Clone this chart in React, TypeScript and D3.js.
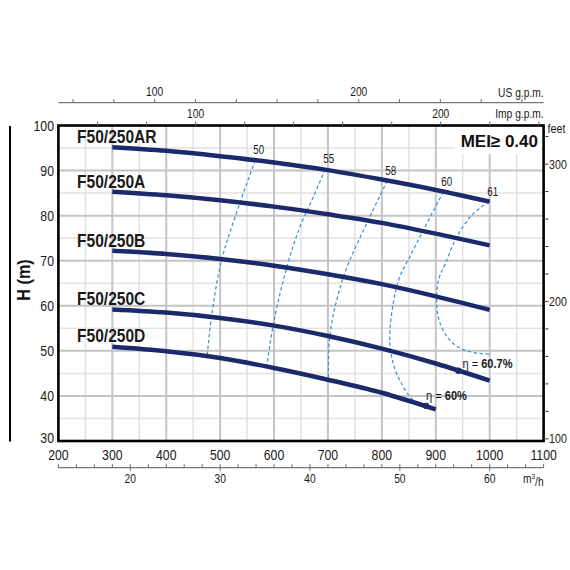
import React from 'react';
import * as d3 from 'd3';

// flow in l/min, head in m
const flow = [300, 400, 500, 600, 700, 800, 900, 1000];
const headAR = [95.2, 94.4, 93.2, 91.8, 90.1, 88.0, 85.7, 83.1];
const headA = [85.3, 84.5, 83.4, 82.0, 80.3, 78.4, 76.0, 73.4];
const headB = [72.2, 71.5, 70.4, 68.9, 67.0, 64.8, 62.1, 59.1];
const headC = [59.2, 58.5, 57.3, 55.6, 53.3, 50.5, 47.2, 43.4];
const headD = [50.9, 49.9, 48.4, 46.2, 43.6, 40.7, 37.0];
const models = ['F50/250AR', 'F50/250A', 'F50/250B', 'F50/250C', 'F50/250D'];

// iso-efficiency lines
const effLevels = ['50', '55', '58', '60', '61'];
const eff50Q = [565, 528, 502, 484, 476];
const eff50H = [92.3, 79.8, 69.8, 57.6, 48.9];
const eff55Q = [695, 673, 648, 624, 599, 587];
const eff55H = [90.3, 84.2, 77.5, 68.7, 56.1, 46.9];
const eff58Q = [810, 772, 729, 704, 701];
const eff58H = [87.7, 78.3, 66.5, 53.9, 43.5];
const eff60Q = [914, 877, 852, 831, 815, 818, 833, 858, 880];
const eff60H = [85.3, 76.8, 70.9, 65.7, 54.6, 48.7, 43.5, 39.1, 37.8];
const eff61Q = [999, 970, 939, 918, 905, 902, 908, 923, 945, 976, 1003];
const eff61H = [83.1, 80.5, 75.3, 69.4, 65.7, 59.8, 56.1, 52.8, 50.6, 49.5, 49.3];

// best efficiency points
const bepLabels = ['60.7%', '60%'];
const bepQ = [942, 882];
const bepH = [45.6, 37.8];

const xTicks = [200, 300, 400, 500, 600, 700, 800, 900, 1000, 1100];
const yTicks = [30, 40, 50, 60, 70, 80, 90, 100];
const usTickLabels = [100, 200];
const impTickLabels = [100, 200];
const m3hTickLabels = [20, 30, 40, 50, 60];
const feetTickLabels = [100, 200, 300];

const SANS = "'Liberation Sans', Arial, sans-serif";
const NAVY = '#1c2a6c';
const DASH = '#3b8fd8';
const SQUEEZE = 0.82;

// condensed text: Liberation Sans squeezed horizontally
function NText(props: {
  x: number;
  y: number;
  size: number;
  anchor?: string;
  bold?: boolean;
  children?: React.ReactNode;
}) {
  return (
    <text
      transform={`translate(${props.x},${props.y}) scale(${SQUEEZE},1)`}
      textAnchor={props.anchor || 'start'}
      dy="0.35em"
      fontFamily={SANS}
      fontWeight={props.bold ? 'bold' : 'normal'}
      fontSize={props.size}
      fill="#1a1a1a"
    >
      {props.children}
    </text>
  );
}

export default function App() {
  const x = d3.scaleLinear().domain([200, 1100]).range([58.4, 543.6]);
  const y = d3.scaleLinear().domain([30, 100]).range([441, 125.5]);

  const fromUS = (g: number) => x(g * 3.78541);
  const fromImp = (g: number) => x(g * 4.54609);
  const fromM3h = (m: number) => x((m * 1000) / 60);
  const fromFeet = (f: number) => y(f * 0.3048);

  const heads = [headAR, headA, headB, headC, headD];
  const labelMid = [136.5, 181.5, 240, 298.5, 335];
  const effQ = [eff50Q, eff55Q, eff58Q, eff60Q, eff61Q];
  const effH = [eff50H, eff55H, eff58H, eff60H, eff61H];

  const line = d3
    .line<[number, number]>()
    .x((d) => x(d[0]))
    .y((d) => y(d[1]))
    .curve(d3.curveCatmullRom.alpha(0.5));

  const [x0, x1] = x.range();
  const [yb, yt] = y.range();

  const minorX = d3.range(250, 1100, 50).filter((v) => v % 100 !== 0);
  const majorX = d3.range(300, 1100, 100);
  const minorY = d3.range(35, 100, 5).filter((v) => v % 10 !== 0);
  const majorY = d3.range(40, 100, 10);

  const usTicks = d3.range(60, 300, 20).filter((g) => fromUS(g) <= x1);
  const impTicks = d3.range(60, 260, 20).filter((g) => fromImp(g) <= x1);
  const m3hTicks = d3.range(12, 67, 2);
  const feetTicks = d3.range(100, 340, 20);

  const usY = 102.7;
  const m3hY = 467.7;

  return (
    <svg
      width={570}
      height={570}
      style={{ position: 'absolute', left: 0, top: 0, background: '#fff' }}
    >
      {/* grid */}
      {minorX.map((v) => (
        <line key={'mx' + v} x1={x(v)} x2={x(v)} y1={yt} y2={yb} stroke="#e2e2e2" strokeWidth={1.5} />
      ))}
      {minorY.map((v) => (
        <line key={'my' + v} x1={x0} x2={x1} y1={y(v)} y2={y(v)} stroke="#e2e2e2" strokeWidth={1.5} />
      ))}
      {majorX.map((v) => (
        <line key={'Mx' + v} x1={x(v)} x2={x(v)} y1={yt} y2={yb} stroke="#c4c4c4" strokeWidth={2} />
      ))}
      {majorY.map((v) => (
        <line key={'My' + v} x1={x0} x2={x1} y1={y(v)} y2={y(v)} stroke="#c4c4c4" strokeWidth={2} />
      ))}

      {/* MEI box */}
      <rect x={455} y={127} width={87} height={27} fill="#fff" />
      <text x={538} y={147} textAnchor="end" fontFamily={SANS} fontWeight="bold" fontSize={17} fill="#111">
        MEI≥ 0.40
      </text>

      {/* efficiency lines */}
      {effLevels.map((lv, i) => {
        const pts = effQ[i].map((q, j) => [q, effH[i][j]] as [number, number]);
        return (
          <g key={'eff' + lv}>
            <path d={line(pts) || ''} fill="none" stroke={DASH} strokeWidth={1.2} strokeDasharray="3.5,2.5" />
            <NText x={x(pts[0][0]) + 3.5} y={y(pts[0][1]) - 10} size={12} anchor="middle">
              {lv}
            </NText>
          </g>
        );
      })}

      {/* head curves */}
      {heads.map((h, i) => {
        const pts = h.map((v, j) => [flow[j], v] as [number, number]);
        return <path key={'h' + i} d={line(pts) || ''} fill="none" stroke={NAVY} strokeWidth={4.5} />;
      })}
      {models.map((m, i) => (
        <NText key={m} x={77} y={labelMid[i]} size={19} bold>
          {m}
        </NText>
      ))}

      {/* best efficiency points */}
      {bepLabels.map((lb, i) => (
        <g key={lb}>
          <circle cx={x(bepQ[i])} cy={y(bepH[i])} r={3.2} fill={NAVY} />
          <NText
            x={x(bepQ[i]) + (i === 0 ? 4 : 0)}
            y={y(bepH[i]) - (i === 0 ? 7.5 : 10.5)}
            size={13.5}
          >
            η = <tspan fontWeight="bold">{lb}</tspan>
          </NText>
        </g>
      ))}

      {/* frame */}
      <rect x={x0} y={yt} width={x1 - x0} height={yb - yt} fill="none" stroke="#000" strokeWidth={2.6} />

      {/* left axis */}
      {yTicks.map((v) => (
        <NText key={'yl' + v} x={54} y={v === 30 ? y(v) - 3 : y(v)} size={15} anchor="end">
          {v}
        </NText>
      ))}
      <line x1={10} x2={10} y1={126} y2={441.5} stroke="#000" strokeWidth={2} />
      <text
        transform="translate(30,280) rotate(-90) scale(0.9,1)"
        textAnchor="middle"
        fontFamily={SANS}
        fontWeight="bold"
        fontSize={18}
        fill="#111"
      >
        H (m)
      </text>

      {/* bottom axis l/min */}
      {xTicks.map((v) => (
        <NText key={'xl' + v} x={x(v)} y={454.5} size={15} anchor="middle">
          {v}
        </NText>
      ))}

      {/* m3/h axis */}
      <line x1={x0} x2={x1} y1={m3hY} y2={m3hY} stroke="#777" strokeWidth={1.3} />
      {m3hTicks.map((m) => (
        <line
          key={'mt' + m}
          x1={fromM3h(m)}
          x2={fromM3h(m)}
          y1={m3hY - 3.5}
          y2={m % 10 === 0 ? m3hY + 3 : m3hY}
          stroke="#666"
          strokeWidth={1}
        />
      ))}
      {m3hTickLabels.map((m) => (
        <NText key={'ml' + m} x={fromM3h(m)} y={479} size={12.5} anchor="middle">
          {m}
        </NText>
      ))}
      <NText x={x1} y={479} size={12.5} anchor="end">
        m<tspan fontSize={8} dy="-0.5em">3</tspan>
        <tspan dy="0.5em">/h</tspan>
      </NText>

      {/* US g.p.m. axis */}
      <line x1={x0} x2={x1} y1={usY} y2={usY} stroke="#777" strokeWidth={1.3} />
      {usTicks.map((g) => (
        <line key={'ut' + g} x1={fromUS(g)} x2={fromUS(g)} y1={usY - 3.5} y2={usY} stroke="#666" strokeWidth={1} />
      ))}
      {usTickLabels.map((g) => (
        <NText key={'ul' + g} x={fromUS(g)} y={91.7} size={12.5} anchor="middle">
          {g}
        </NText>
      ))}
      <NText x={x1} y={92.5} size={12.5} anchor="end">
        US g.p.m.
      </NText>

      {/* Imp g.p.m. axis on frame top */}
      {impTicks.map((g) => (
        <line key={'it' + g} x1={fromImp(g)} x2={fromImp(g)} y1={yt - 4} y2={yt} stroke="#666" strokeWidth={1} />
      ))}
      {impTickLabels.map((g) => (
        <NText key={'il' + g} x={fromImp(g)} y={113.3} size={12.5} anchor="middle">
          {g}
        </NText>
      ))}
      <NText x={x1} y={113.8} size={12.5} anchor="end">
        Imp g.p.m.
      </NText>

      {/* feet axis */}
      {feetTicks.map((f) => (
        <line key={'ft' + f} x1={x1} x2={x1 + 5} y1={fromFeet(f)} y2={fromFeet(f)} stroke="#444" strokeWidth={1} />
      ))}
      {feetTickLabels.map((f) => (
        <NText key={'fl' + f} x={x1 + 5.5} y={fromFeet(f)} size={13}>
          {f}
        </NText>
      ))}
      <NText x={x1 + 4} y={128.5} size={13}>
        feet
      </NText>
    </svg>
  );
}
